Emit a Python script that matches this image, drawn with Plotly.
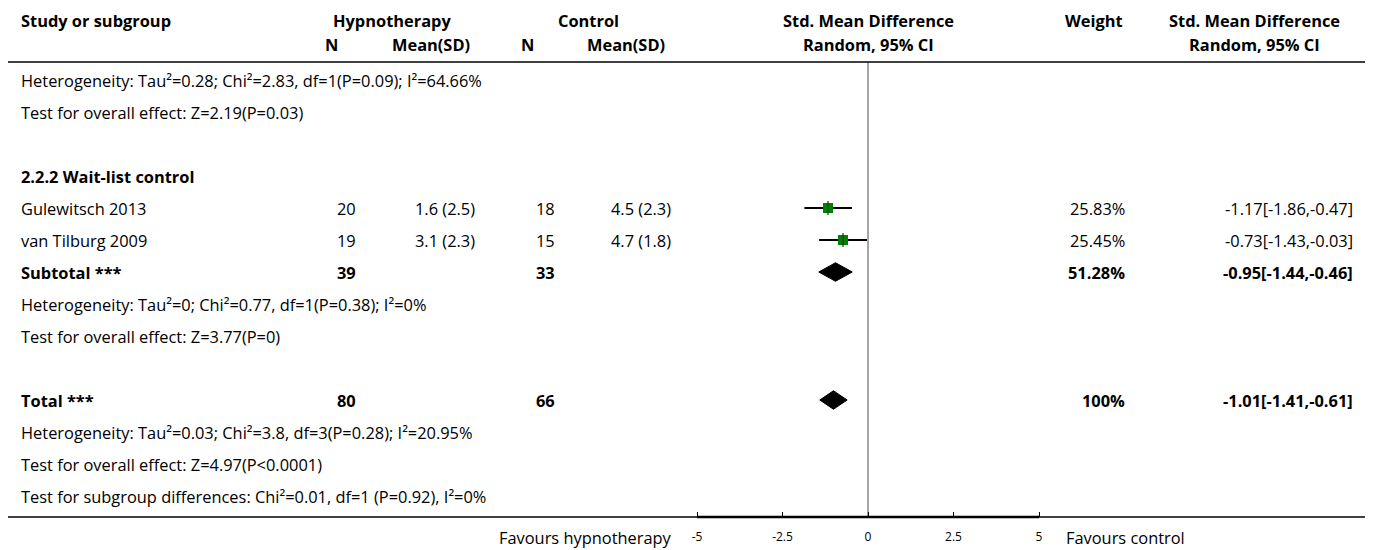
import plotly.graph_objects as go

# ---------------- data ----------------
studies = ["Gulewitsch 2013", "van Tilburg 2009"]
hyp_n = [20, 19]
hyp_mean = [1.6, 3.1]
hyp_sd = [2.5, 2.3]
ctl_n = [18, 15]
ctl_mean = [4.5, 4.7]
ctl_sd = [2.3, 1.8]
smd = [-1.17, -0.73]
smd_lo = [-1.86, -1.43]
smd_hi = [-0.47, -0.03]
weights = ["25.83%", "25.45%"]

group_label = "2.2.2 Wait-list control"
sub_label = "Subtotal ***"
sub_n = [39, 33]
sub_smd = [-0.95, -1.44, -0.46]
sub_weight = "51.28%"
tot_label = "Total ***"
tot_n = [80, 66]
tot_smd = [-1.01, -1.41, -0.61]
tot_weight = "100%"

prev_het = "Heterogeneity: Tau²=0.28; Chi²=2.83, df=1(P=0.09); I²=64.66%"
prev_test = "Test for overall effect: Z=2.19(P=0.03)"
sub_het = "Heterogeneity: Tau²=0; Chi²=0.77, df=1(P=0.38); I²=0%"
sub_test = "Test for overall effect: Z=3.77(P=0)"
tot_het = "Heterogeneity: Tau²=0.03; Chi²=3.8, df=3(P=0.28); I²=20.95%"
tot_test = "Test for overall effect: Z=4.97(P<0.0001)"
subgroup_test = "Test for subgroup differences: Chi²=0.01, df=1 (P=0.92), I²=0%"

tick_vals = [-5, -2.5, 0, 2.5, 5]
tick_text = ["-5", "-2.5", "0", "2.5", "5"]
left_label = "Favours hypnotherapy"
right_label = "Favours control"

# ---------------- layout constants (page pixels) ----------------
PAGE_W, PAGE_H = 1373, 550
OFF = 8                       # default body margin of the html page
W, H = PAGE_W - OFF, PAGE_H - OFF
AXIS_Y = 517                  # page px of the x-axis line
PH = AXIS_Y - OFF             # plot-area height in figure px
MB = H - PH
FONT = "Open Sans"
FS = 16.4
X0_PX, PX_PER_UNIT = 868, 34.2
ROW0_PX, ROW_H = 80, 32

def px2paper_x(px):
    return (px - OFF) / W

def px2paper_y(py):
    return 1 - (py - OFF) / PH

xr = [(OFF - X0_PX) / PX_PER_UNIT, (OFF + W - X0_PX) / PX_PER_UNIT]
yr = [(AXIS_Y - ROW0_PX) / ROW_H, (OFF - ROW0_PX) / ROW_H]

# column positions (page px) and anchors
COL_STUDY = (19, "left")
COL_HN = (358, "right")
COL_HM = (477, "right")
COL_CN = (557, "right")
COL_CM = (673, "right")
COL_W = (1127, "right")
COL_CI = (1355, "right")

fig = go.Figure()
ann = []

def txt(col, row, s, bold=False):
    x, anchor = col
    ann.append(dict(x=px2paper_x(x), xref="paper", y=row, yref="y", text=f"<b>{s}</b>" if bold else s,
                    xanchor=anchor, yanchor="middle", showarrow=False,
                    font=dict(family=FONT, size=FS, color="#000")))

def hdr(xpx, ypx, s, anchor="center", bold=True, size=FS):
    ann.append(dict(x=px2paper_x(xpx), xref="paper", y=px2paper_y(ypx), yref="paper",
                    text=f"<b>{s}</b>" if bold else s,
                    xanchor=anchor, yanchor="middle", showarrow=False,
                    font=dict(family=FONT, size=size, color="#000")))

# headers
hdr(19, 20, "Study or subgroup", "left")
hdr(392, 20, "Hypnotherapy")
hdr(588, 20, "Control")
hdr(868, 20, "Std. Mean Difference")
hdr(1125, 20, "Weight", "right")
hdr(1254, 20, "Std. Mean Difference")
hdr(331, 44, "N")
hdr(431, 44, "Mean(SD)")
hdr(527, 44, "N")
hdr(626, 44, "Mean(SD)")
hdr(868, 44, "Random, 95% CI")
hdr(1254, 44, "Random, 95% CI")

# rows
r = 0
txt(COL_STUDY, r, prev_het); r += 1
txt(COL_STUDY, r, prev_test); r += 2
txt(COL_STUDY, r, group_label, bold=True); r += 1
study_rows = []
for i, s in enumerate(studies):
    txt(COL_STUDY, r, s)
    txt(COL_HN, r, str(hyp_n[i]))
    txt(COL_HM, r, f"{hyp_mean[i]} ({hyp_sd[i]})")
    txt(COL_CN, r, str(ctl_n[i]))
    txt(COL_CM, r, f"{ctl_mean[i]} ({ctl_sd[i]})")
    txt(COL_W, r, weights[i])
    txt(COL_CI, r, f"{smd[i]}[{smd_lo[i]},{smd_hi[i]}]")
    study_rows.append(r)
    r += 1
sub_row = r
txt(COL_STUDY, r, sub_label, bold=True)
txt(COL_HN, r, str(sub_n[0]), bold=True)
txt(COL_CN, r, str(sub_n[1]), bold=True)
txt(COL_W, r, sub_weight, bold=True)
txt(COL_CI, r, f"{sub_smd[0]}[{sub_smd[1]},{sub_smd[2]}]", bold=True)
r += 1
txt(COL_STUDY, r, sub_het); r += 1
txt(COL_STUDY, r, sub_test); r += 2
tot_row = r
txt(COL_STUDY, r, tot_label, bold=True)
txt(COL_HN, r, str(tot_n[0]), bold=True)
txt(COL_CN, r, str(tot_n[1]), bold=True)
txt(COL_W, r, tot_weight, bold=True)
txt(COL_CI, r, f"{tot_smd[0]}[{tot_smd[1]},{tot_smd[2]}]", bold=True)
r += 1
txt(COL_STUDY, r, tot_het); r += 1
txt(COL_STUDY, r, tot_test); r += 1
txt(COL_STUDY, r, subgroup_test); r += 1

# favours labels
hdr(674, 537, left_label, "right", bold=False)
hdr(1064, 537, right_label, "left", bold=False)

# CI lines
for i in range(len(studies)):
    fig.add_trace(go.Scatter(x=[smd_lo[i], smd_hi[i]], y=[study_rows[i]] * 2, mode="lines",
                             line=dict(color="#000", width=2), hoverinfo="skip", showlegend=False))
fig.add_trace(go.Scatter(x=smd, y=study_rows, mode="markers",
                         marker=dict(symbol="square", size=10, color="#008000", line=dict(width=0)),
                         showlegend=False))
fig.add_trace(go.Scatter(x=smd, y=study_rows, mode="markers",
                         marker=dict(symbol="line-ns", size=10, line=dict(color="#004400", width=1.2)),
                         showlegend=False))

# diamonds
DH = 0.29
for row, (e, lo, hi) in [(sub_row, sub_smd), (tot_row, tot_smd)]:
    fig.add_trace(go.Scatter(x=[lo, e, hi, e, lo], y=[row, row - DH, row, row + DH, row],
                             mode="lines", fill="toself", fillcolor="#000",
                             line=dict(color="#000", width=1), showlegend=False))

shapes = [
    # header rule
    dict(type="line", xref="paper", yref="paper", x0=px2paper_x(7), x1=px2paper_x(1367),
         y0=px2paper_y(62), y1=px2paper_y(62), line=dict(color="#000", width=1.5)),
    # bottom rule
    dict(type="line", xref="paper", yref="paper", x0=px2paper_x(7), x1=px2paper_x(1367),
         y0=0, y1=0, line=dict(color="#000", width=1.5)),
    # thick axis segment
    dict(type="line", xref="x", yref="paper", x0=tick_vals[0], x1=tick_vals[-1],
         y0=0, y1=0, line=dict(color="#000", width=2.5)),
    # null line
    dict(type="line", xref="x", yref="paper", x0=0, x1=0, y0=0, y1=px2paper_y(62),
         line=dict(color="#888", width=1.5), layer="below"),
]

fig.update_layout(
    width=W, height=H,
    margin=dict(l=0, r=0, t=0, b=MB, pad=0),
    paper_bgcolor="white", plot_bgcolor="white",
    xaxis=dict(range=xr, showgrid=False, zeroline=False, showline=False,
               tickvals=tick_vals, ticktext=tick_text, ticks="inside", ticklen=5,
               tickcolor="#000", tickwidth=1, ticklabelstandoff=11,
               tickfont=dict(family=FONT, size=12, color="#000")),
    yaxis=dict(range=yr, visible=False, showgrid=False, zeroline=False),
    annotations=ann, shapes=shapes, showlegend=False,
)

fig.write_html("out.html")
